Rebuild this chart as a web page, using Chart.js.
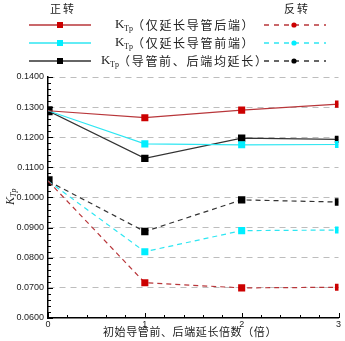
<!DOCTYPE html>
<html>
<head>
<meta charset="utf-8">
<script src="https://cdn.jsdelivr.net/npm/chart.js@4/dist/chart.umd.min.js"></script>
<style>
html, body { margin: 0; padding: 0; background: #fff; }
#root { width: 345px; height: 341px; }
</style>
</head>
<body>
<div id="root"><canvas id="main-chart"></canvas></div>
<script>
// data
var xValues = [0, 1, 2, 3];
var fwdRear  = [0.1288, 0.1265, 0.1290, 0.1310];
var fwdFront = [0.1288, 0.1178, 0.1175, 0.1176];
var fwdBoth  = [0.1288, 0.1130, 0.1197, 0.1193];
var revRear  = [0.1055, 0.0717, 0.0700, 0.0702];
var revFront = [0.1055, 0.0820, 0.0890, 0.0892];
var revBoth  = [0.1055, 0.0887, 0.0992, 0.0985];
var seriesNames = ['（仅延长导管后端）', '（仅延长导管前端）', '（导管前、后端均延长）'];
var dirNames = ['正转', '反转'];
var xTitle = '初始导管前、后端延长倍数（倍）';
var yMin = 0.06, yMax = 0.14, yStep = 0.01;

var lineCols = ['#b8363a', '#2ee6f2', '#333333'];
var markCols = ['#cc0000', '#00eeff', '#000000'];

function pts(arr) {
	return xValues.map(function (x, i) { return { x: x, y: arr[i] }; });
}

function series(arr, k, dashed) {
	return {
		data: pts(arr),
		borderColor: lineCols[k],
		borderWidth: 1.2,
		borderDash: dashed ? [5, 4] : [],
		backgroundColor: markCols[k],
		pointBackgroundColor: markCols[k],
		pointBorderColor: markCols[k],
		pointBorderWidth: 0,
		pointStyle: 'rect',
		pointRadius: k === 2 ? [6.5, 5.2, 5.2, 5.2] : [0, 5, 5, 5],
		tension: 0
	};
}

// draws spaced text one glyph at a time
function spaced(ctx, str, x, y, pitch) {
	for (var i = 0; i < str.length; i++) ctx.fillText(str[i], x + i * pitch, y);
}

var decor = {
	id: 'decor',
	afterDraw: function (chart) {
		var ctx = chart.ctx;
		var xs = chart.scales.x, ys = chart.scales.y;
		var area = chart.chartArea;
		ctx.save();

		// inward tick marks
		ctx.strokeStyle = '#000';
		ctx.lineWidth = 1;
		for (var v = 0; v <= 3.0001; v += 0.2) {
			var px = Math.round(xs.getPixelForValue(v)) + 0.5;
			var major = Math.abs(v - Math.round(v)) < 1e-6;
			ctx.beginPath();
			ctx.moveTo(px, area.bottom);
			ctx.lineTo(px, area.bottom - (major ? 5 : 3));
			ctx.stroke();
		}
		for (var w = yMin; w <= yMax + 1e-6; w += 0.002) {
			var py = Math.round(ys.getPixelForValue(w)) + 0.5;
			var maj = Math.abs(w / yStep - Math.round(w / yStep)) < 1e-4;
			ctx.beginPath();
			ctx.moveTo(area.left, py);
			ctx.lineTo(area.left + (maj ? 5 : 3), py);
			ctx.stroke();
		}

		// legend
		ctx.fillStyle = '#222';
		ctx.textBaseline = 'middle';
		ctx.textAlign = 'left';
		ctx.font = '11px "Noto Sans CJK SC"';
		spaced(ctx, dirNames[0], 50, 9, 13);
		spaced(ctx, dirNames[1], 284, 9, 13);

		var rows = [25, 43, 61];
		var kx = [115, 115, 101];
		for (var r = 0; r < 3; r++) {
			var y = rows[r];
			ctx.strokeStyle = lineCols[r];
			ctx.lineWidth = 1.5;
			ctx.setLineDash([]);
			ctx.beginPath(); ctx.moveTo(29, y); ctx.lineTo(91, y); ctx.stroke();
			ctx.fillStyle = markCols[r];
			ctx.fillRect(57, y - 3, 6, 6);
			ctx.setLineDash([5, 5]);
			ctx.beginPath(); ctx.moveTo(264, y); ctx.lineTo(326, y); ctx.stroke();
			ctx.setLineDash([]);
			ctx.beginPath(); ctx.arc(294, y, 2.6, 0, Math.PI * 2); ctx.fill();

			ctx.fillStyle = '#222';
			ctx.font = '13px "Liberation Serif"';
			ctx.fillText('K', kx[r], y);
			ctx.font = '8px "Liberation Serif"';
			ctx.fillText('Tp', kx[r] + 9, y + 4);
			ctx.font = '12px "Noto Sans CJK SC"';
			spaced(ctx, seriesNames[r], kx[r] + 17, y, 13.7);
		}

		// x axis title
		ctx.font = '11px "Noto Sans CJK SC"';
		spaced(ctx, xTitle, 103, 332, 11.6);

		// y axis title
		ctx.translate(11, 205);
		ctx.rotate(-Math.PI / 2);
		ctx.font = 'italic 12px "Liberation Serif"';
		ctx.fillText('K', 0, 0);
		ctx.font = 'italic 8px "Liberation Serif"';
		ctx.fillText('Tp', 8, 3);
		ctx.restore();
	}
};

var chart = new Chart(document.getElementById('main-chart'), {
	type: 'line',
	data: {
		datasets: [
			series(fwdRear, 0, false),
			series(fwdFront, 1, false),
			series(revRear, 0, true),
			series(revFront, 1, true),
			series(fwdBoth, 2, false),
			series(revBoth, 2, true)
		]
	},
	options: {
		responsive: true,
		maintainAspectRatio: false,
		animation: false,
		layout: { padding: { top: 77, right: 6, left: 0, bottom: 0 } },
		plugins: { legend: { display: false }, tooltip: { enabled: false } },
		scales: {
			x: {
				type: 'linear',
				min: 0,
				max: 3,
				grid: { display: false, drawTicks: false },
				border: { color: '#000', width: 1.5 },
				ticks: {
					stepSize: 1,
					padding: 1,
					color: '#222',
					font: { size: 9, family: 'Liberation Sans' }
				},
				afterFit: function (s) { s.height = 23; }
			},
			y: {
				min: yMin,
				max: yMax,
				grid: {
					drawTicks: false,
					lineWidth: 1,
					color: function (c) {
						return c.tick && c.tick.value < yMin + 1e-6 ? 'rgba(0,0,0,0)' : '#bdbdbd';
					}
				},
				border: { color: '#000', width: 1.5, dash: [6, 5] },
				ticks: {
					stepSize: yStep,
					padding: 4,
					color: '#222',
					font: { size: 9, family: 'Liberation Sans' },
					callback: function (v) { return v.toFixed(4); }
				},
				afterFit: function (s) { s.width = 48; }
			}
		}
	},
	plugins: [decor]
});
</script>
</body>
</html>
